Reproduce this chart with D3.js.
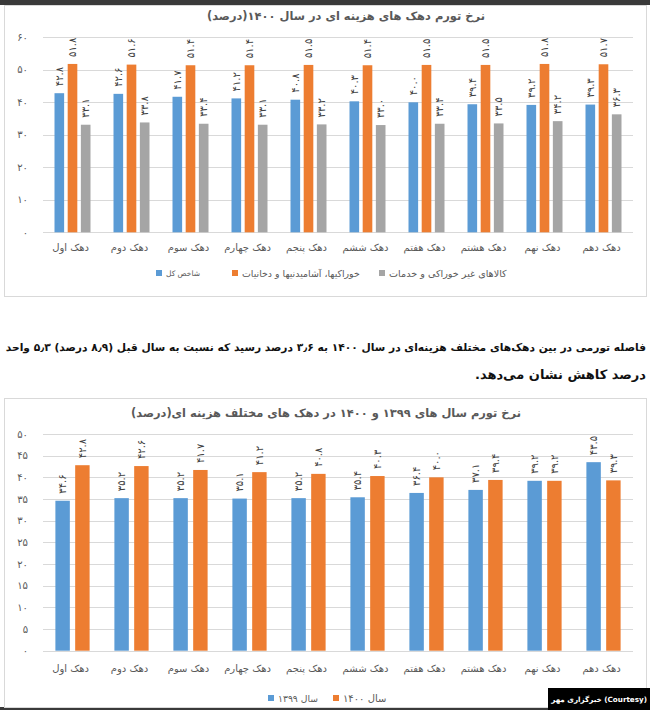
<!DOCTYPE html>
<html>
<head>
<meta charset="utf-8">
<script src="https://cdn.jsdelivr.net/npm/d3@7"></script>
<style>
  body { margin: 0; background: #fff; }
  svg text { font-family: 'DejaVu Sans', sans-serif; }
</style>
</head>
<body>
<div id="chart"></div>
<script>
// data
const deciles = ['دهک اول', 'دهک دوم', 'دهک سوم', 'دهک چهارم', 'دهک پنجم', 'دهک ششم', 'دهک هفتم', 'دهک هشتم', 'دهک نهم', 'دهک دهم'];
const totalIndex1400 = [42.8, 42.6, 41.7, 41.2, 40.8, 40.3, 40.0, 39.4, 39.2, 39.3];
const food1400 = [51.8, 51.6, 51.4, 51.4, 51.5, 51.4, 51.5, 51.5, 51.8, 51.7];
const nonFood1400 = [33.1, 33.8, 33.4, 33.1, 33.2, 33.0, 33.4, 33.5, 34.2, 36.3];
const inflation1399 = [34.6, 35.2, 35.2, 35.1, 35.2, 35.4, 36.4, 37.1, 39.2, 43.5];
const inflation1400 = [42.8, 42.6, 41.7, 41.2, 40.8, 40.3, 40.0, 39.4, 39.2, 39.3];
const groupNames1 = ['شاخص کل', 'خوراکیها، آشامیدنیها و دخانیات', 'کالاهای غیر خوراکی و خدمات'];
const groupNames2 = ['سال ۱۳۹۹', 'سال ۱۴۰۰'];
const ticks1 = [0, 10, 20, 30, 40, 50, 60];
const ticks2 = [0, 5, 10, 15, 20, 25, 30, 35, 40, 45, 50];
const title1 = 'نرخ تورم دهک های هزینه ای در سال ۱۴۰۰(درصد)';
const title2 = 'نرخ تورم سال های ۱۳۹۹ و ۱۴۰۰ در دهک های مختلف هزینه ای(درصد)';
const paragraph = ['فاصله تورمی در بین دهک‌های مختلف هزینه‌ای در سال ۱۴۰۰ به ۳٫۶ درصد رسید که نسبت به سال قبل (۸٫۹ درصد) ۵٫۳ واحد', 'درصد کاهش نشان می‌دهد.'];
const credit = '(Courtesy) خبرگزاری مهر';

const colors = ['#5B9BD5', '#ED7D31', '#A5A5A5'];
const textGray = '#595959';
const gridGray = '#D9D9D9';

// persian digits
const faDigits = '۰۱۲۳۴۵۶۷۸۹';
function fa(s) {
    return String(s).replace(/[0-9]/g, d => faDigits[+d]);
}

// shrink a text's font until it is no wider than maxW
function fit(t, size, maxW) {
    t.style('font-size', size + 'px');
    let w = t.node().getComputedTextLength();
    if (w > maxW)
        t.style('font-size', (size * maxW / w).toFixed(2) + 'px');
    return t;
}

const W = 650, H = 710;
let svg = d3.select('#chart')
    .append('svg')
    .attr('width', W)
    .attr('height', H)
    .attr('viewBox', '0 0 ' + W + ' ' + H);

svg.append('rect').attr('width', W).attr('height', H).attr('fill', '#fff');
// dark strips of the screenshot
svg.append('rect').attr('x', 0).attr('y', 0).attr('width', W).attr('height', 5).attr('fill', '#3a3a3a');
svg.append('rect').attr('x', 0).attr('y', 707).attr('width', W).attr('height', 3).attr('fill', '#3a3a3a');

function drawChart(opt) {
    let g = svg.append('g');
    g.append('rect')
        .attr('x', 4.5).attr('y', opt.boxTop + 0.5)
        .attr('width', 642).attr('height', opt.boxBottom - opt.boxTop)
        .attr('fill', '#fff')
        .attr('stroke', gridGray);

    let title = g.append('text')
        .attr('x', opt.titleX)
        .attr('y', opt.titleY)
        .attr('text-anchor', 'middle')
        .attr('dominant-baseline', 'central')
        .style('direction', 'rtl')
        .style('font-weight', 'bold')
        .attr('fill', textGray)
        .text(opt.title);
    fit(title, 14, opt.titleW);

    const x = d3.scaleBand().domain(deciles).range([43, 633]);
    const keys = d3.range(opt.series.length);
    const xs = d3.scaleBand().domain(keys)
        .range([x.bandwidth() * opt.inner[0], x.bandwidth() * opt.inner[1]])
        .paddingInner(0.27);
    const y = d3.scaleLinear().domain(opt.domain).range(opt.yRange);

    // grid
    g.append('g').selectAll('line')
        .data(opt.ticks)
        .enter()
        .append('line')
        .attr('x1', 43).attr('x2', 633)
        .attr('y1', d => Math.round(y(d)) + 0.5)
        .attr('y2', d => Math.round(y(d)) + 0.5)
        .attr('stroke', gridGray);

    g.append('g').selectAll('text')
        .data(opt.ticks)
        .enter()
        .append('text')
        .attr('x', 28)
        .attr('y', d => y(d))
        .attr('text-anchor', 'end')
        .attr('dominant-baseline', 'central')
        .style('font-size', '10px')
        .attr('fill', textGray)
        .text(d => fa(d));

    // bars + rotated labels
    let groups = g.append('g').selectAll('g')
        .data(deciles)
        .enter()
        .append('g')
        .attr('transform', d => 'translate(' + x(d) + ',0)');

    const fmt = d3.format('.1f');
    let cells = groups.selectAll('g')
        .data((d, i) => keys.map(k => ({ k: k, v: opt.series[k][i] })))
        .enter()
        .append('g');
    cells.append('rect')
        .attr('x', d => xs(d.k))
        .attr('width', xs.bandwidth())
        .attr('y', d => y(d.v))
        .attr('height', d => y(0) - y(d.v))
        .attr('fill', d => colors[d.k]);
    cells.append('text')
        .attr('transform', d => 'translate(' + (xs(d.k) + xs.bandwidth() / 2) + ',' + (y(d.v) - 7) + ') rotate(-90)')
        .attr('dominant-baseline', 'central')
        .style('font-size', '10px')
        .attr('fill', '#404040')
        .text(d => fa(fmt(d.v)));

    // categories
    g.append('g').selectAll('text')
        .data(deciles)
        .enter()
        .append('text')
        .attr('x', d => x(d) + x.bandwidth() / 2 - 2)
        .attr('y', opt.catY)
        .attr('text-anchor', 'middle')
        .attr('dominant-baseline', 'central')
        .style('direction', 'rtl')
        .style('font-size', '10px')
        .attr('fill', textGray)
        .text(d => d);

    // legend: square then name, left to right
    opt.names.forEach(function (name, i) {
        let lx = opt.legendX[i];
        g.append('rect')
            .attr('x', lx).attr('y', opt.legendY - 3)
            .attr('width', 6).attr('height', 6)
            .attr('fill', colors[i]);
        let t = g.append('text')
            .attr('x', lx + 10)
            .attr('y', opt.legendY)
            .attr('dominant-baseline', 'central')
            .attr('fill', textGray)
            .text(name);
        fit(t, 10, opt.legendW[i]);
    });
}

drawChart({
    boxTop: 5, boxBottom: 296,
    title: title1, titleX: 346, titleY: 16, titleW: 278,
    series: [totalIndex1400, food1400, nonFood1400],
    inner: [0.195, 0.805],
    domain: [0, 60], yRange: [232.3, 37.3], ticks: ticks1,
    catY: 247,
    names: groupNames1, legendX: [156, 232, 379], legendY: 273, legendW: [34, 118, 118]
});

drawChart({
    boxTop: 398, boxBottom: 707,
    title: title2, titleX: 326, titleY: 413, titleW: 390,
    series: [inflation1399, inflation1400],
    inner: [0.21, 0.79],
    domain: [0, 50], yRange: [650.7, 434], ticks: ticks2,
    catY: 668,
    names: groupNames2, legendX: [268, 333], legendY: 698, legendW: [40, 44]
});

// article text between the charts
svg.append('g').selectAll('text')
    .data(paragraph)
    .enter()
    .append('text')
    .attr('x', 646)
    .attr('y', (d, i) => 347 + i * 27)
    .attr('text-anchor', 'start')
    .attr('dominant-baseline', 'central')
    .style('direction', 'rtl')
    .style('font-weight', 'bold')
    .attr('fill', '#111')
    .text(d => d)
    .each(function () { fit(d3.select(this), 13, 641); });

// credit badge
svg.append('rect').attr('x', 548).attr('y', 688).attr('width', 102).attr('height', 22).attr('fill', '#000');
let creditText = svg.append('text')
    .attr('x', 647)
    .attr('y', 699)
    .attr('text-anchor', 'start')
    .attr('dominant-baseline', 'central')
    .style('direction', 'rtl')
    .style('font-weight', 'bold')
    .attr('fill', '#fff')
    .text(credit);
fit(creditText, 9.5, 96);
</script>
</body>
</html>
